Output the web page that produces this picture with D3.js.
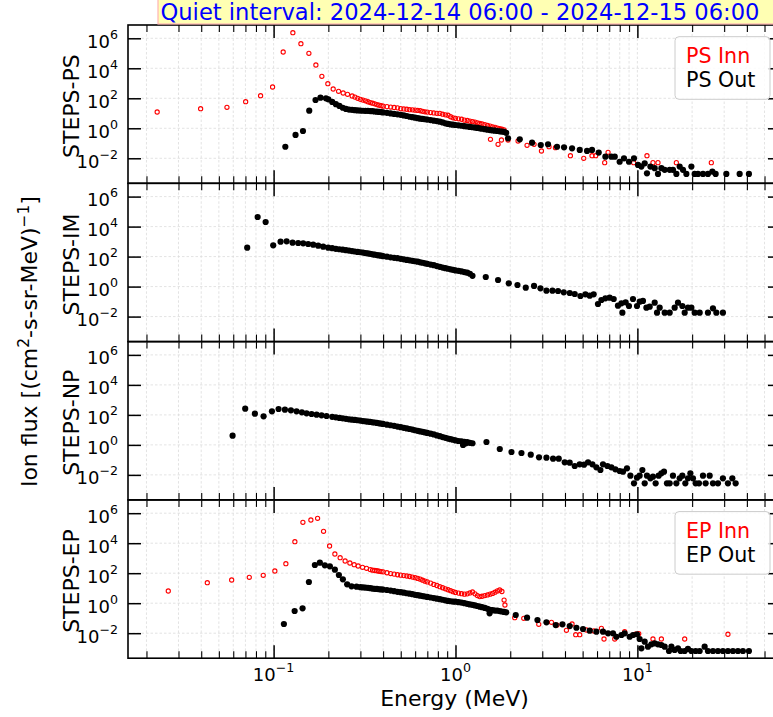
<!DOCTYPE html>
<html><head><meta charset="utf-8">
<script src="https://cdn.jsdelivr.net/npm/d3@7"></script>
<style>body{margin:0;background:#fff}svg{display:block}text{font-family:"DejaVu Sans",sans-serif}</style>
</head><body><svg id="c" width="773" height="717"></svg>
<script>
// ---------------- data (Energy MeV, flux) ----------------
const titleText = "Quiet interval: 2024-12-14 06:00 - 2024-12-15 06:00";
const panelLabels = ["STEPS-PS","STEPS-IM","STEPS-NP","STEPS-EP"];
const xDomain = [0.01583, 61.6];
const yDomain = [2.15e-4, 7.7e6];
const xMajorTicks = [0.1, 1, 10];
const xTickExp = ["−1","0","1"];
const yMajorTicks = [1e-2, 1, 1e2, 1e4, 1e6];
const yTickExp = ["−2","0","2","4","6"];

const psInn = [[0.0229,12.2],[0.0397,20.3],[0.0554,25.1],[0.0702,59.3],[0.0848,149],[0.0987,566],[0.1129,1.22e5],[0.1276,2.36e6],[0.1413,4.37e5],[0.1563,1.0e5],[0.1708,1.66e4],[0.1842,2930],[0.1987,940],[0.2126,417],[0.2276,293],[0.2412,225],[0.255,185],[0.2703,142],
[0.28,120],[0.29,100],[0.30,85],[0.31,76],[0.32,68],[0.33,59],[0.34,52],[0.35,47],[0.36,43],[0.37,38],[0.38,35],[0.39,32],[0.40,30],[0.42,28],[0.44,26],[0.46,24.5],[0.48,23],[0.50,20.4],[0.52,19.5],[0.54,18.6],[0.56,17.4],[0.58,17],[0.60,16.2],[0.62,15.5],[0.64,14.8],[0.66,13.5],[0.68,12.6],[0.70,12],[0.73,11.2],[0.76,10.5],[0.79,10],[0.82,9.8],[0.85,8.7],[0.88,7.9],[0.91,7.4],[0.94,5.9],[0.97,5.0],[1.00,4.6],[1.04,4.3],[1.08,4.0],[1.12,3.5],[1.16,3.3],[1.20,3.0],[1.24,2.8],[1.28,2.6],[1.32,2.3],[1.36,2.1],[1.40,1.95],[1.45,1.74],[1.50,1.55],[1.55,1.41],[1.60,1.26],[1.65,1.15],[1.70,1.02],[1.75,0.93],[1.80,0.87],[1.85,0.78],
[1.557,0.185],[1.714,0.0858],[1.789,0.166],[1.945,0.166],[2.208,0.142],[2.474,0.0736],[2.703,0.0858],[2.969,0.0307],[3.268,0.0593],[3.544,0.0509],[4.284,0.0149],[5.07,0.01],[5.63,0.0149],[5.90,0.0149],[6.61,0.0051],[6.90,0.0251],[9.54,0.0051],[11.29,0.0149],[12.18,0.0051],[12.98,0.0051],[16.38,0.0051],[25.5,0.0051]];

const psOut = [[0.116,0.059],[0.132,0.36],[0.145,0.66],[0.157,14.9],[0.170,77],[0.181,110],[0.194,100],
[0.20,85],[0.21,57.5],[0.22,40.7],[0.23,30.9],[0.24,23.4],[0.25,19.5],[0.26,17.8],[0.27,17.0],[0.28,16.2],[0.29,15.5],[0.30,15.1],[0.31,14.8],[0.32,14.6],[0.33,14.5],[0.34,14.1],[0.35,13.8],[0.36,13.2],[0.37,12.9],[0.38,12.3],[0.39,12.0],[0.40,11.5],[0.42,10.7],[0.44,9.8],[0.46,9.1],[0.48,8.5],[0.50,7.9],[0.52,7.2],[0.54,6.6],[0.56,5.9],[0.58,5.5],[0.60,5.1],[0.62,4.7],[0.64,4.4],[0.66,4.2],[0.68,4.0],[0.70,3.8],[0.73,3.55],[0.76,3.24],[0.79,3.02],[0.82,2.75],[0.85,2.45],[0.88,2.14],[0.91,1.95],[0.94,1.82],[0.97,1.74],[1.00,1.66],[1.04,1.58],[1.08,1.48],[1.12,1.38],[1.16,1.32],[1.20,1.23],[1.24,1.17],[1.28,1.12],[1.32,1.05],[1.36,1.0],[1.40,0.93],[1.45,0.87],[1.50,0.81],[1.55,0.76],[1.60,0.72],[1.65,0.69],[1.70,0.66],[1.75,0.63],[1.80,0.60],[1.85,0.58],[1.90,0.50],
[1.945,0.215],[2.256,0.185],[2.636,0.11],[2.943,0.077],[3.227,0.086],[3.616,0.059],[3.952,0.054],[4.373,0.046],[4.82,0.036],[5.286,0.031],[5.63,0.036],[6.13,0.024],[6.67,0.0128],[7.19,0.0128],[7.51,0.0128],[7.99,0.0059],[8.44,0.01],[8.99,0.0059],[9.58,0.01],[10.08,0.0036],[10.52,0.0028],[10.97,0.0046],[11.29,0.001],[11.79,0.0028],[12.45,0.0022],[12.98,0.0009],[13.55,0.0022],[14.13,0.0017],[15.05,0.0017],[15.69,0.0017],[16.38,0.0009],[17.08,0.0028],[17.81,0.0017],[18.59,0.0009],[19.81,0.0028],[20.65,0.0009],[21.53,0.0009],[22.94,0.0009],[24.43,0.0009],[25.83,0.0013],[26.93,0.0009],[30.83,0.0009],[36.49,0.0009],[41.05,0.0009]];

const imFlux = [[0.0716,392],[0.0817,4.37e4],[0.0904,2.03e4],[0.0995,566],[0.1092,985],[0.1179,1047],[0.1271,845],[0.1365,807],[0.1454,771],[0.1549,692],[0.165,621],[0.1758,533],[0.1873,457],[0.1995,392],
[0.21,363],[0.22,331],[0.23,309],[0.24,288],[0.25,269],[0.26,251],[0.27,234],[0.28,219],[0.29,204],[0.30,195],[0.31,182],[0.32,170],[0.33,162],[0.34,151],[0.35,141],[0.36,135],[0.37,126],[0.38,120],[0.39,115],[0.40,107],[0.42,98],[0.44,89],[0.46,83],[0.48,78],[0.50,71],[0.52,66],[0.54,60],[0.56,56],[0.58,52.5],[0.60,49],[0.62,45.7],[0.64,41.7],[0.66,38.9],[0.68,35.5],[0.70,33.1],[0.73,29.5],[0.76,26.9],[0.79,23.4],[0.82,20.9],[0.85,18.6],[0.88,17.0],[0.91,15.5],[0.94,14.1],[0.97,13.2],[1.00,12.0],[1.04,11.2],[1.08,10.2],[1.12,9.3],[1.16,8.5],[1.20,7.2],[1.24,5.2],
[1.467,4.37],[1.714,2.75],[1.963,1.66],[2.191,1.28],[2.434,0.845],[2.703,1.10],[2.931,0.771],[3.162,0.533],[3.412,0.533],[3.662,0.509],[3.937,0.417],[4.246,0.374],[4.524,0.321],[4.862,0.236],[5.18,0.307],[5.47,0.247],[5.75,0.307],[6.07,0.0692],[6.34,0.128],[6.67,0.166],[7.04,0.182],[7.41,0.149],[7.82,0.0533],[8.17,0.0771],[8.27,0.0182],[8.62,0.0897],[8.99,0.0509],[9.46,0.149],[9.95,0.0509],[10.3,0.0984],[10.73,0.110],[11.21,0.0392],[11.69,0.0457],[12.45,0.0845],[12.82,0.0182],[13.26,0.0392],[14.13,0.0182],[15.05,0.0182],[16.03,0.0392],[16.72,0.0845],[17.67,0.0509],[18.2,0.0182],[18.97,0.0392],[19.81,0.0392],[20.65,0.0182],[22.0,0.0182],[24.43,0.0182],[26.03,0.0357],[27.17,0.0182],[29.53,0.0182]];

const npFlux = [[0.0595,4.1],[0.0698,259],[0.0789,120],[0.0881,80.7],[0.0979,174],[0.1065,247],[0.1154,222],[0.1245,203],[0.1337,174],[0.143,149],[0.1518,128],[0.1617,115],[0.1723,103],[0.1835,94],[0.1955,84.5],
[0.21,74],[0.22,69],[0.23,63],[0.24,59],[0.25,55],[0.26,51],[0.27,48],[0.28,46],[0.29,44],[0.30,42],[0.31,39],[0.32,37],[0.33,35.5],[0.34,34],[0.35,32],[0.36,31],[0.37,29],[0.38,27.5],[0.39,26.3],[0.40,25.1],[0.42,22.4],[0.44,20.4],[0.46,18.6],[0.48,16.6],[0.50,15.1],[0.52,13.8],[0.54,12.6],[0.56,11.5],[0.58,10.5],[0.60,9.5],[0.62,8.7],[0.64,7.9],[0.66,7.4],[0.68,6.8],[0.70,6.3],[0.73,5.6],[0.76,5.0],[0.79,4.3],[0.82,3.8],[0.85,3.3],[0.88,2.95],[0.91,2.63],[0.94,2.4],[0.97,2.2],[1.00,2.0],[1.04,1.82],[1.08,1.70],[1.10,0.99],[1.12,1.58],[1.14,1.28],[1.16,1.51],[1.20,1.38],[1.24,1.29],
[1.480,1.56],[1.752,0.533],[2.031,0.336],[2.305,0.288],[2.593,0.222],[2.879,0.149],[3.162,0.140],[3.439,0.120],[3.695,0.120],[3.986,0.0692],[4.246,0.065],[4.524,0.0392],[4.819,0.0509],[5.089,0.0479],[5.354,0.0692],[5.657,0.0509],[5.951,0.0321],[6.261,0.0212],[6.471,0.0509],[6.843,0.0392],[7.196,0.0321],[7.570,0.0236],[7.994,0.0182],[8.334,0.0163],[8.768,0.0275],[9.152,0.00885],[9.579,0.00275],[9.95,0.0065],[10.29,0.00885],[10.65,0.0212],[10.97,0.00275],[11.29,0.00885],[11.79,0.00593],[12.18,0.0076],[12.6,0.00275],[13.09,0.00885],[13.55,0.0128],[14.01,0.0163],[14.54,0.00275],[15.05,0.00275],[15.69,0.00885],[16.38,0.00275],[17.08,0.00593],[17.67,0.00885],[18.35,0.00275],[18.97,0.00593],[19.56,0.0128],[20.21,0.00593],[20.91,0.00275],[21.81,0.00275],[22.94,0.00885],[23.73,0.00275],[24.97,0.00885],[26.03,0.00275],[27.73,0.00275],[29.53,0.00593],[31.47,0.00275],[33.27,0.00593],[34.69,0.00275]];

const epInn = [[0.02636,6.5],[0.0432,23.3],[0.0588,35.2],[0.0735,53.3],[0.0877,72.4],[0.1016,140],[0.1168,430],[0.1309,1.26e4],[0.1449,2.47e5],[0.1603,3.52e5],[0.1745,4.57e5],[0.1882,6.21e4],[0.2031,6500],[0.2172,1905],[0.2322,1080],[0.2473,650],[0.2626,479],[0.2773,369],[0.2916,302],[0.3083,247],[0.3243,212],
[0.34,174],[0.35,158],[0.36,151],[0.37,145],[0.38,135],[0.39,129],[0.40,123],[0.42,107],[0.44,95],[0.46,87],[0.48,79],[0.50,74],[0.52,69],[0.54,65],[0.56,60],[0.58,55],[0.60,50],[0.62,45],[0.64,40],[0.66,34],[0.68,29.5],[0.70,26.3],[0.73,21.9],[0.76,17.8],[0.79,15.1],[0.82,12.6],[0.85,10.7],[0.88,9.1],[0.91,7.9],[0.94,6.8],[0.97,5.9],[1.00,5.2],[1.04,4.7],[1.08,4.3],[1.12,4.0],[1.16,4.2],[1.20,4.8],[1.24,5.6],[1.28,4.2],[1.32,3.2],[1.36,2.75],[1.40,2.9],[1.45,3.2],[1.50,3.55],[1.55,4.0],[1.60,4.5],[1.65,5.4],[1.70,6.6],[1.75,7.6],[1.80,6.0],[1.85,1.62],[1.87,0.76],
[2.117,0.108],[2.373,0.098],[2.869,0.039],[3.37,0.053],[3.616,0.035],[4.073,0.0156],[4.373,0.041],[4.581,0.0079],[4.82,0.0079],[5.246,0.0163],[5.775,0.014],[6.342,0.0212],[6.554,0.0041],[7.507,0.0041],[8.515,0.0126],[9.75,0.0085],[10.17,0.0093],[12.18,0.0041],[13.55,0.0041],[18.2,0.0041],[31.47,0.0085]];

const epOut = [[0.1139,0.041],[0.1305,0.302],[0.1443,0.457],[0.1563,25.9],[0.1686,352],[0.1796,501],[0.1913,337],[0.2039,288],[0.2172,171],[0.2285,75.9],[0.2403,39.2],[0.2537,18.2],[0.2683,13.4],[0.2858,12.6],
[0.30,11.7],[0.31,11.2],[0.32,11.0],[0.33,10.5],[0.34,10.0],[0.35,9.5],[0.36,9.1],[0.37,8.9],[0.38,8.5],[0.39,8.3],[0.40,8.1],[0.42,7.6],[0.44,6.9],[0.46,6.3],[0.48,5.75],[0.50,5.4],[0.52,5.0],[0.54,4.6],[0.56,4.3],[0.58,4.0],[0.60,3.6],[0.62,3.4],[0.64,3.16],[0.66,3.0],[0.68,2.8],[0.70,2.6],[0.73,2.4],[0.76,2.2],[0.79,2.0],[0.82,1.86],[0.85,1.70],[0.88,1.55],[0.91,1.41],[0.94,1.35],[0.97,1.29],[1.00,1.26],[1.04,1.17],[1.08,1.10],[1.12,1.0],[1.16,0.91],[1.20,0.83],[1.24,0.78],[1.28,0.71],[1.32,0.65],[1.36,0.59],[1.40,0.54],[1.45,0.48],[1.50,0.42],[1.54,0.21],[1.55,0.355],[1.60,0.34],[1.65,0.32],[1.70,0.32],[1.75,0.30],[1.80,0.28],[1.85,0.26],[1.90,0.245],
[2.144,0.163],[2.474,0.108],[2.822,0.076],[3.162,0.053],[3.557,0.035],[3.872,0.039],[4.246,0.030],[4.622,0.023],[5.024,0.019],[5.47,0.0147],[5.951,0.0126],[6.471,0.0126],[6.898,0.0098],[7.343,0.0098],[7.666,0.0058],[8.17,0.0076],[8.515,0.0098],[9.07,0.0058],[9.459,0.0076],[9.95,0.0085],[10.29,0.0041],[10.52,0.00098],[10.97,0.0027],[11.43,0.00126],[11.94,0.0018],[12.45,0.0021],[12.98,0.0018],[13.55,0.00163],[14.13,0.00126],[14.92,0.00065],[15.38,0.00126],[16.03,0.00076],[16.72,0.00098],[17.3,0.00065],[18.19,0.00065],[18.97,0.00089],[19.81,0.00065],[20.91,0.00065],[22.0,0.00065],[23.43,0.00126],[24.43,0.00065],[26.03,0.00065],[27.73,0.00065],[29.53,0.00065],[31.47,0.00065],[33.52,0.00065],[35.71,0.00065],[38.04,0.00065],[41.05,0.00065]];

const legendLabels = [["PS Inn","PS Out"], null, null, ["EP Inn","EP Out"]];
const panelSeries = [
  [{d:psInn,k:"inn"},{d:psOut,k:"out"}],
  [{d:imFlux,k:"out"}],
  [{d:npFlux,k:"out"}],
  [{d:epInn,k:"inn"},{d:epOut,k:"out"}]
];

// ---------------- layout ----------------
const L=128, R=781, T0=25, PH=158.3;
const svg = d3.select("#c");
svg.append("rect").attr("width",773).attr("height",717).attr("fill","#fff");
const x = d3.scaleLog().domain(xDomain).range([L,R]);

const xMinor = [];
[0.01,0.1,1,10].forEach(dec=>{for(let k=2;k<=9;k++){const v=k*dec; if(v>xDomain[0]&&v<xDomain[1]) xMinor.push(v);}});

function tickAxis(g, fn, scale, vals, size, tx, ty, sw){
  const a = fn(scale).tickValues(vals).tickSize(size).tickSizeOuter(0).tickFormat("");
  const s = g.append("g").attr("transform",`translate(${tx},${ty})`).call(a);
  s.select(".domain").remove();
  s.selectAll("text").remove();
  s.selectAll("line").attr("stroke","#000").attr("stroke-width",sw);
}

function supLabel(sel, exp, fs){
  sel.append("tspan").text("10");
  sel.append("tspan").attr("dy",-fs*0.5).attr("font-size",fs*0.7).text(exp);
}

panelSeries.forEach((series,i)=>{
  const top = T0 + i*PH, bot = top + PH;
  const y = d3.scaleLog().domain(yDomain).range([bot, top]);
  const g = svg.append("g");
  const cid = "clip"+i;
  svg.append("clipPath").attr("id",cid).append("rect").attr("x",L).attr("y",top).attr("width",R-L).attr("height",PH);

  // grid
  const grid = g.append("g").attr("stroke","#dcdcdc").attr("stroke-width",0.8).attr("stroke-dasharray","2.5,2");
  grid.selectAll("line.gx").data(xMajorTicks.concat(xMinor)).join("line")
    .attr("x1",d=>x(d)).attr("x2",d=>x(d)).attr("y1",top).attr("y2",bot);
  grid.selectAll("line.gy").data(yMajorTicks).join("line").attr("class","gy")
    .attr("x1",L).attr("x2",R).attr("y1",d=>y(d)).attr("y2",d=>y(d));

  // points
  const pg = g.append("g").attr("clip-path",`url(#${cid})`);
  series.forEach(s=>{
    const c = pg.append("g").selectAll("circle").data(s.d).join("circle")
      .attr("cx",d=>x(d[0])).attr("cy",d=>y(d[1]));
    if(s.k==="inn") c.attr("r",2.1).attr("fill","none").attr("stroke","#ff0000").attr("stroke-width",1.1);
    else c.attr("r",3.1).attr("fill","#000");
  });

  // ticks
  tickAxis(g, d3.axisBottom, x, xMajorTicks, -13, 0, bot, 1.5);
  tickAxis(g, d3.axisBottom, x, xMinor, -7, 0, bot, 1.1);
  tickAxis(g, d3.axisTop, x, xMajorTicks, -13, 0, top, 1.5);
  tickAxis(g, d3.axisTop, x, xMinor, -7, 0, top, 1.1);
  tickAxis(g, d3.axisLeft, y, yMajorTicks, -13, L, 0, 1.5);
  tickAxis(g, d3.axisRight, y, yMajorTicks, -13, R, 0, 1.5);

  // spine
  g.append("rect").attr("x",L).attr("y",top).attr("width",R-L).attr("height",PH)
    .attr("fill","none").attr("stroke","#000").attr("stroke-width",1.6);

  // y tick labels
  yMajorTicks.forEach((v,j)=>{
    const t = g.append("text").attr("x",118).attr("y",y(v)+9.5).attr("text-anchor","end")
      .attr("font-size",18).attr("fill","#000");
    supLabel(t, yTickExp[j], 18);
  });

  // panel label
  g.append("text").attr("transform",`translate(79,${(top+bot)/2+2}) rotate(-90)`)
    .attr("text-anchor","middle").attr("font-size",22).text(panelLabels[i]);

  // legend
  if(legendLabels[i]){
    const lg = g.append("g");
    lg.append("rect").attr("x",675).attr("y",top+11.7).attr("width",95).attr("height",62.6)
      .attr("rx",4).attr("fill","#fff").attr("fill-opacity",0.85).attr("stroke","#cccccc").attr("stroke-width",1);
    lg.append("text").attr("x",686).attr("y",top+37.6).attr("font-size",20.6).attr("fill","#ff0000").text(legendLabels[i][0]);
    lg.append("text").attr("x",686).attr("y",top+61.6).attr("font-size",20.6).attr("fill","#000").text(legendLabels[i][1]);
  }

  // x tick labels (bottom panel only)
  if(i===3){
    xMajorTicks.forEach((v,j)=>{
      const t = g.append("text").attr("x",x(v)).attr("y",bot+23).attr("text-anchor","middle")
        .attr("font-size",18);
      supLabel(t, xTickExp[j], 18);
    });
  }
});

// axis labels
svg.append("text").attr("x",(L+R)/2).attr("y",706).attr("text-anchor","middle").attr("font-size",22).text("Energy (MeV)");
const yl = svg.append("text").attr("transform",`translate(37,${T0+2*PH}) rotate(-90)`).attr("text-anchor","middle").attr("font-size",22);
yl.append("tspan").text("Ion flux [(cm");
yl.append("tspan").attr("dy",-8).attr("font-size",15.4).text("2");
yl.append("tspan").attr("dy",8).text("-s-sr-MeV)");
yl.append("tspan").attr("dy",-8).attr("font-size",15.4).text("−1");
yl.append("tspan").attr("dy",8).text("]");

// title
svg.append("rect").attr("x",158).attr("y",-6).attr("width",700).attr("height",30)
  .attr("fill","#ffffb3").attr("stroke","#ffb3b3").attr("stroke-width",1.2);
svg.append("text").attr("x",460).attr("y",20).attr("text-anchor","middle").attr("font-size",22.6)
  .attr("fill","#0000ff").text(titleText);
</script></body></html>
